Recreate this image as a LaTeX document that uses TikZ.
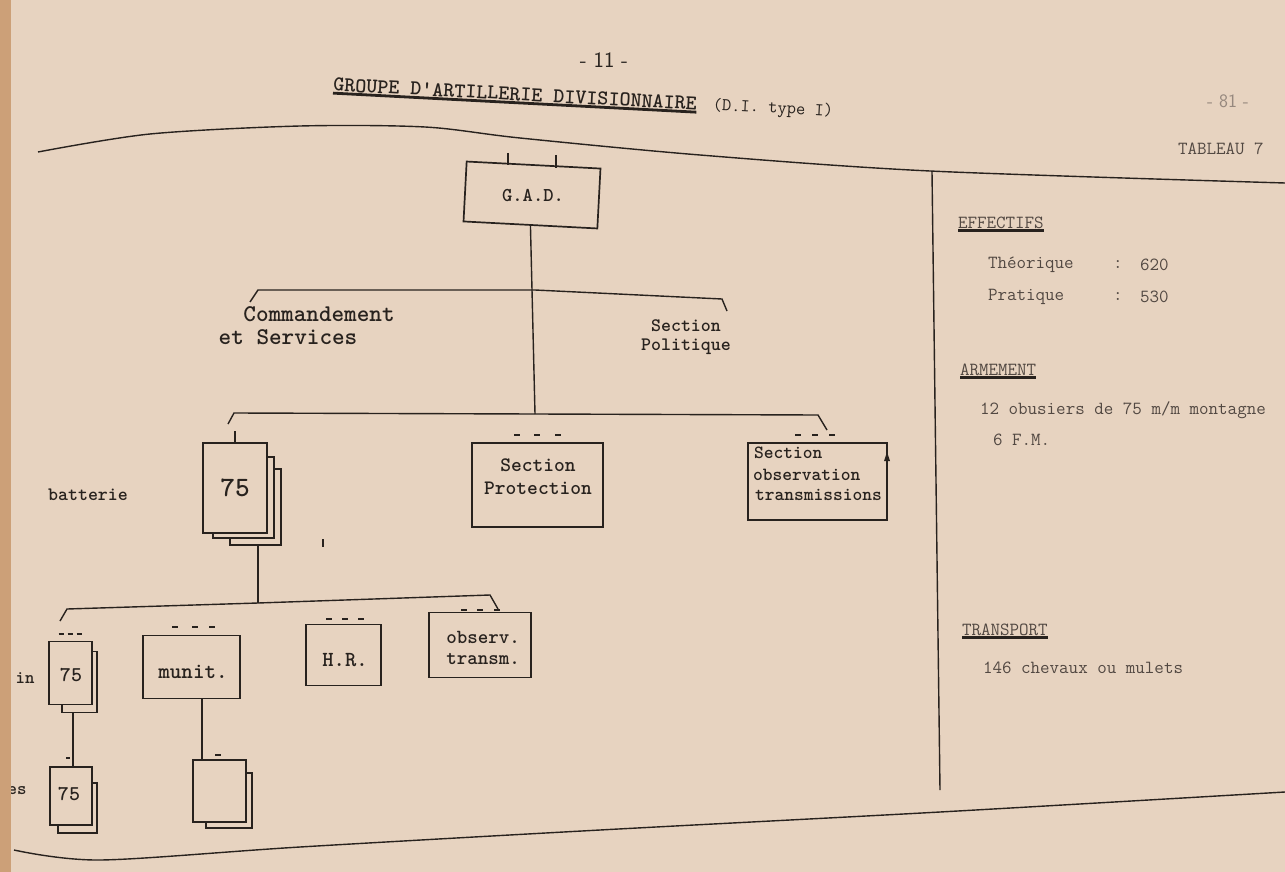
\documentclass[tikz,border=0pt]{standalone}
\usepackage{fontspec}
\definecolor{paper}{RGB}{231,211,192}
\definecolor{ink}{RGB}{40,34,30}
\definecolor{inkl}{RGB}{82,72,66}
\definecolor{faint}{RGB}{150,136,126}
\definecolor{edge}{RGB}{204,160,120}
\begin{document}
\begin{tikzpicture}[x=1pt,y=-1pt,
  every node/.style={inner sep=0pt, outer sep=0pt, text=ink},
  box/.style={draw=ink, line width=1.7pt, fill=paper, rectangle, inner sep=0pt},
  ln/.style={draw=ink, line width=1.4pt},
  dotmark/.style={draw=ink, line width=2.8pt},
  txt/.style={font=\ttfamily\bfseries\fontsize{#1}{#1}\selectfont},
  side/.style={font=\ttfamily\fontsize{18.5}{18.5}\selectfont, text=inkl, anchor=west},
  uline/.style={draw=ink, line width=2.8pt}
]
\fill[paper] (0,0) rectangle (1285,872);
\useasboundingbox (0,0) rectangle (1285,872);

% page edges
\draw[ln] plot[smooth] coordinates {(38,152) (150,134) (300,126) (425,127) (520,138) (700,155) (930,171) (1285,183)};
\draw[ln] plot[smooth] coordinates {(14,850) (100,860) (300,847) (600,830) (940,812) (1285,792)};
\draw[ln] (932,172) -- (940,790);

% header
\node[font=\sffamily\fontsize{22}{22}\selectfont] (pnum) at (604,60) {- 11 -};
\node[txt=21, rotate=-3] (title) at (515,94) {GROUPE D'ARTILLERIE DIVISIONNAIRE};
\draw[uline] ([yshift=-2pt]title.south west) -- ([yshift=-2pt]title.south east);
\node[font=\ttfamily\fontsize{18}{18}\selectfont, rotate=-3] (type) at (773,109) {(D.I. type I)};
\node[font=\sffamily\fontsize{19}{19}\selectfont, text=faint] (pnum2) at (1228,101) {- 81 -};
\node[side] (tab) at (1178,149) {TABLEAU 7};

% G.A.D.
\node[box, rotate=-3, minimum width=134, minimum height=60] (GAD) at (532,195) {};
\node[txt=19.6] (GADt) at (533,196) {G.A.D.};
\coordinate (t1) at (508,153);
\coordinate (t2) at (556,155);
\draw[ln] (t1) -- (t1 |- GAD.north);
\draw[ln] (t2) -- ([yshift=-3pt]t2 |- GAD.north);

% bar 1
\coordinate (b1Lh) at (250,302);
\coordinate (b1L) at (258,290);
\coordinate (b1M) at (535,290);
\coordinate (b1R) at (722,299);
\coordinate (b1Rh) at (727,311);
\draw[ln] (b1Lh) -- (b1L) -- (b1M) -- (b1R) -- (b1Rh);
\node[txt=24] (cmd1) at (319,314) {Commandement};
\node[txt=24] (cmd2) at (288,337) {et Services};
\node[txt=19] (pol1) at (686,326) {Section};
\node[txt=19] (pol2) at (686,347) {Politique};

% bar 2
\coordinate (b2Lh) at (228,424);
\coordinate (b2L) at (234,413);
\coordinate (b2M) at (535,414);
\coordinate (b2R) at (818,415);
\coordinate (b2Rh) at (827,430);
\draw[ln] (GAD.south) -- (b2M);
\draw[ln] (b2Lh) -- (b2L) -- (b2M) -- (b2R) -- (b2Rh);

% batterie stack
\node[txt=19] (batl) at (88,495) {batterie};
\node[box, minimum width=51, minimum height=76] (bat3) at (255.5,507) {};
\node[box, minimum width=61, minimum height=81] (bat2) at (243.5,497.5) {};
\node[box, minimum width=64, minimum height=90] (bat) at (235,488) {};
\node[txt=28] (batt) at (bat) {75};
\coordinate (tb) at (235,431);
\draw[ln] (tb) -- (bat.north);
\draw[ln] (323,539) -- (323,547);

% Section Protection
\node[box, minimum width=131, minimum height=84] (prot) at (537.5,485) {};
\node[txt=20.5] (prot1) at (538,465) {Section};
\node[txt=20.5] (prot2) at (538,488) {Protection};
\foreach \x in {517,537,558} \draw[dotmark] (\x-3,435) -- (\x+3,435);

% Section observation transmissions
\node[box, minimum width=139, minimum height=77] (obs) at (817.5,481.5) {};
\node[txt=18.6, anchor=west] (obs1) at (754,453) {Section};
\node[txt=18.6, anchor=west] (obs2) at (753,475) {observation};
\node[txt=18.6, anchor=west] (obs3) at (755,495) {transmissions};
\foreach \x in {798,815,832} \draw[dotmark] (\x-3,435) -- (\x+3,435);
\fill[ink] (884,461) -- (887,452) -- (890,461) -- cycle;
\draw[ink, line width=1.8pt] (887,456) -- (887,465);

% bar 3
\coordinate (b3Lh) at (60,621);
\coordinate (b3L) at (67,609);
\coordinate (b3M) at (258,603);
\coordinate (b3R) at (490,595);
\coordinate (b3Rh) at (498,609);
\draw[ln] (bat3.south -| b3M) -- (b3M);
\draw[ln] (b3Lh) -- (b3L) -- (b3M) -- (b3R) -- (b3Rh);

% small 75
\node[box, minimum width=35, minimum height=61] (s75b) at (79.5,682) {};
\node[box, minimum width=43, minimum height=63] (s75) at (70.5,673) {};
\node[txt=21] (s75t) at (71,675) {75};
\foreach \x in {61,70,79} \draw[dotmark] (\x-2.5,634) -- (\x+2.5,634);

% munit.
\node[box, minimum width=97, minimum height=63] (munit) at (191.5,667) {};
\node[txt=22] (munitt) at (193,672) {munit.};
\foreach \x in {175,195,212} \draw[dotmark] (\x-3,627) -- (\x+3,627);

% H.R.
\node[box, minimum width=75, minimum height=61] (hr) at (343.5,655) {};
\node[txt=21.5] (hrt) at (345,660) {H.R.};
\foreach \x in {329,345,361} \draw[dotmark] (\x-3,619) -- (\x+3,619);

% observ. transm.
\node[box, minimum width=102, minimum height=65] (ot) at (480,645) {};
\node[txt=20] (ot1) at (483,637) {observ.};
\node[txt=20] (ot2) at (483,659) {transm.};
\foreach \x in {464,480,497} \draw[dotmark] (\x-3,610) -- (\x+3,610);

% bottom 75
\coordinate (v1) at (73,713);
\node[box, minimum width=39, minimum height=50] (b75b) at (77.5,808) {};
\node[box, minimum width=42, minimum height=58] (b75) at (71,796) {};
\node[txt=21] (b75t) at (69,794) {75};
\draw[ln] (v1) -- (v1 |- b75.north);
\draw[dotmark] (66,758) -- (70,758);

% empty box
\coordinate (v2) at (202,699);
\node[box, minimum width=46, minimum height=55] (empb) at (229,800.5) {};
\node[box, minimum width=53, minimum height=62] (emp) at (219.5,791) {};
\draw[ln] (v2) -- (v2 |- emp.north);
\draw[dotmark] (215,755) -- (221,755);

% fragments at the fold
\node[txt=18] (frag1) at (25,678) {in};
\node[txt=18] (frag2) at (17,791) {es};
\fill[edge] (0,0) rectangle (11,872);

% right column
\node[side] (eff) at (958,223) {EFFECTIFS};
\draw[uline] ([yshift=-2pt]eff.south west) -- ([yshift=-2pt]eff.south east);
\node[side] (th) at (988,265) {Théorique};
\node[side] (thc) at (1113,265) {:};
\node[side] (thv) at (1140,265) {620};
\node[side] (pr) at (988,297) {Pratique};
\node[side] (prc) at (1113,297) {:};
\node[side] (prv) at (1140,297) {530};
\node[side] (arm) at (960,370) {ARMEMENT};
\draw[uline] ([yshift=-2pt]arm.south west) -- ([yshift=-2pt]arm.south east);
\node[side] (arm1) at (980,410) {12 obusiers de 75 m/m montagne};
\node[side] (arm2) at (993,440) {6 F.M.};
\node[side] (trp) at (962,630) {TRANSPORT};
\draw[uline] ([yshift=-2pt]trp.south west) -- ([yshift=-2pt]trp.south east);
\node[side] (trp1) at (983,668) {146 chevaux ou mulets};
\end{tikzpicture}
\end{document}
